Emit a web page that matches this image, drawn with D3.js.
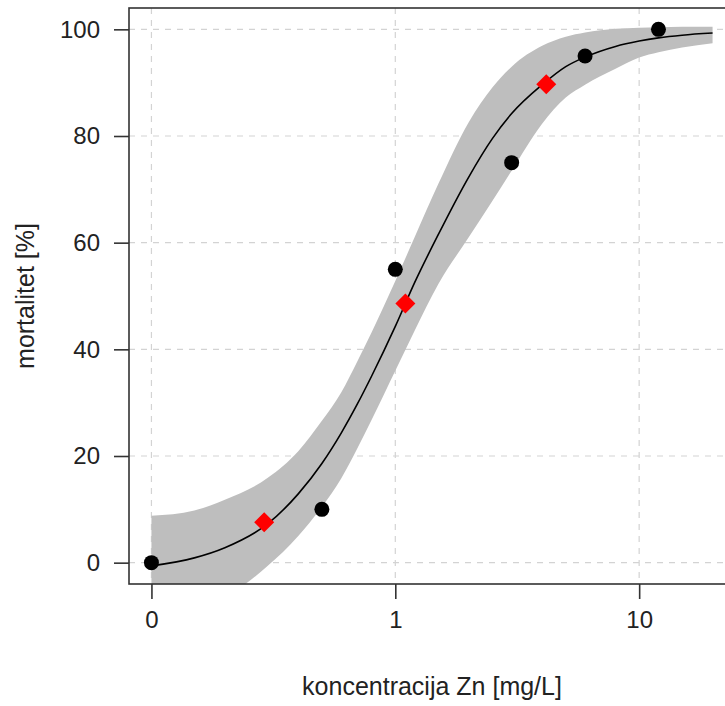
<!DOCTYPE html>
<html>
<head>
<meta charset="utf-8">
<script src="https://cdn.jsdelivr.net/npm/d3@7"></script>
<style>
  html, body { margin: 0; padding: 0; background: #fff; }
  svg { display: block; }
  text { font-family: "Liberation Sans", Arial, Helvetica, sans-serif; }
</style>
</head>
<body>
<svg id="chart" width="725" height="706"></svg>
<script>
// ---- data ----
// observed mortality (dose 0 is drawn at the broken-axis position)
const obsDose = [0, 0.5, 1, 3, 6, 12];
const obsMort = [0, 10, 55, 75, 95, 100];

// highlighted estimates (red diamonds)
const estDose = [0.29, 1.1, 4.16];
const estMort = [7.6, 48.6, 89.7];

// fitted curve and confidence band, read at these concentrations
const fitDose  = [0.1, 0.15, 0.2, 0.3, 0.4, 0.5, 0.6, 0.7, 0.8, 1, 1.2, 1.5, 2, 2.5, 3, 4, 5, 6, 8, 10, 12, 15, 20];
const fitMort  = [-0.6, 0.9, 2.8, 7.3, 12.9, 18.6, 24.3, 29.8, 35.0, 44.3, 52.5, 61.5, 72.3, 79.5, 84.2, 89.6, 93.0, 94.8, 96.8, 97.8, 98.4, 98.9, 99.3];
const bandUpper = [8.8, 9.8, 11.8, 15.9, 20.9, 26.6, 31.9, 37.8, 43.2, 52.8, 61.0, 71.0, 82.6, 89.1, 93.0, 96.9, 98.6, 99.4, 100.1, 100.3, 100.4, 100.5, 100.5];
const bandLower = [-11.5, -9.0, -6.5, -0.6, 5.0, 10.5, 15.8, 21.5, 26.8, 36.0, 43.5, 52.2, 61.0, 67.8, 73.5, 82.3, 87.2, 89.6, 92.6, 94.7, 95.7, 96.6, 97.4];

// axes
const xTickValues = [0.1, 1, 10];
const xTickLabels = ["0", "1", "10"];
const yTickValues = [0, 20, 40, 60, 80, 100];
const xTitle = "koncentracija Zn [mg/L]";
const yTitle = "mortalitet [%]";

// ---- drawing ----
const svg = d3.select("#chart");
const plot = { left: 129, top: 8, right: 735, bottom: 584 };

const x = d3.scaleLog()
  .domain([Math.pow(10, -1.092), Math.pow(10, 1.393)])
  .range([plot.left, plot.right]);
const y = d3.scaleLinear()
  .domain([-4, 104])
  .range([plot.bottom, plot.top]);

// dose 0 sits at the axis break (0.1)
const xd = d => x(d === 0 ? 0.1 : d);

svg.append("defs").append("clipPath").attr("id", "clip")
  .append("rect")
  .attr("x", plot.left).attr("y", plot.top)
  .attr("width", plot.right - plot.left).attr("height", plot.bottom - plot.top);

// grid
const grid = svg.append("g");
grid.selectAll("line.v").data(xTickValues).enter().append("line")
  .attr("x1", d => x(d)).attr("x2", d => x(d))
  .attr("y1", plot.top).attr("y2", plot.bottom)
  .attr("stroke", "#d3d3d3").attr("stroke-width", 1.2).attr("stroke-dasharray", "6,6");
grid.selectAll("line.h").data(yTickValues).enter().append("line")
  .attr("x1", plot.left).attr("x2", plot.right)
  .attr("y1", d => y(d)).attr("y2", d => y(d))
  .attr("stroke", "#d3d3d3").attr("stroke-width", 1.2).attr("stroke-dasharray", "6,6");

// confidence band
const bandData = fitDose.map((d, i) => ({ d, lo: bandLower[i], hi: bandUpper[i] }));
svg.append("path")
  .datum(bandData)
  .attr("clip-path", "url(#clip)")
  .attr("fill", "#bebebe")
  .attr("d", d3.area()
    .curve(d3.curveMonotoneX)
    .x(p => x(p.d))
    .y0(p => y(p.lo))
    .y1(p => y(p.hi)));

// fitted curve
const fitData = fitDose.map((d, i) => ({ d, v: fitMort[i] }));
svg.append("path")
  .datum(fitData)
  .attr("clip-path", "url(#clip)")
  .attr("fill", "none")
  .attr("stroke", "#000")
  .attr("stroke-width", 1.6)
  .attr("d", d3.line().curve(d3.curveMonotoneX).x(p => x(p.d)).y(p => y(p.v)));

// observed points
svg.append("g").selectAll("circle")
  .data(obsDose.map((d, i) => ({ d, v: obsMort[i] })))
  .enter().append("circle")
  .attr("cx", p => xd(p.d)).attr("cy", p => y(p.v))
  .attr("r", 7.5).attr("fill", "#000");

// estimates (diamonds)
svg.append("g").selectAll("path")
  .data(estDose.map((d, i) => ({ d, v: estMort[i] })))
  .enter().append("path")
  .attr("transform", p => `translate(${x(p.d)},${y(p.v)})`)
  .attr("d", "M0,-10L10,0L0,10L-10,0Z")
  .attr("fill", "#ff0000");

// box
svg.append("rect")
  .attr("x", plot.left).attr("y", plot.top)
  .attr("width", plot.right - plot.left).attr("height", plot.bottom - plot.top)
  .attr("fill", "none").attr("stroke", "#333").attr("stroke-width", 1.6);

// axes
const xAxis = d3.axisBottom(x)
  .tickValues(xTickValues)
  .tickFormat((d, i) => xTickLabels[i])
  .tickSize(15).tickPadding(12);
const gx = svg.append("g").attr("transform", `translate(0,${plot.bottom})`).call(xAxis);
gx.select(".domain").remove();
gx.selectAll(".tick line").attr("stroke", "#333").attr("stroke-width", 1.6);
gx.selectAll(".tick text").attr("font-size", 24).attr("fill", "#222")
  .attr("font-family", "Liberation Sans, Arial, sans-serif");

const yAxis = d3.axisLeft(y)
  .tickValues(yTickValues)
  .tickFormat(d3.format("d"))
  .tickSize(15).tickPadding(14);
const gy = svg.append("g").attr("transform", `translate(${plot.left},0)`).call(yAxis);
gy.select(".domain").remove();
gy.selectAll(".tick line").attr("stroke", "#333").attr("stroke-width", 1.6);
gy.selectAll(".tick text").attr("font-size", 24).attr("fill", "#222")
  .attr("font-family", "Liberation Sans, Arial, sans-serif");

// titles
svg.append("text")
  .attr("x", (plot.left + plot.right) / 2).attr("y", 695)
  .attr("text-anchor", "middle").attr("font-size", 25).attr("fill", "#222")
  .text(xTitle);
svg.append("text")
  .attr("transform", `translate(34,${(plot.top + plot.bottom) / 2}) rotate(-90)`)
  .attr("text-anchor", "middle").attr("font-size", 25).attr("fill", "#222")
  .text(yTitle);
</script>
</body>
</html>
